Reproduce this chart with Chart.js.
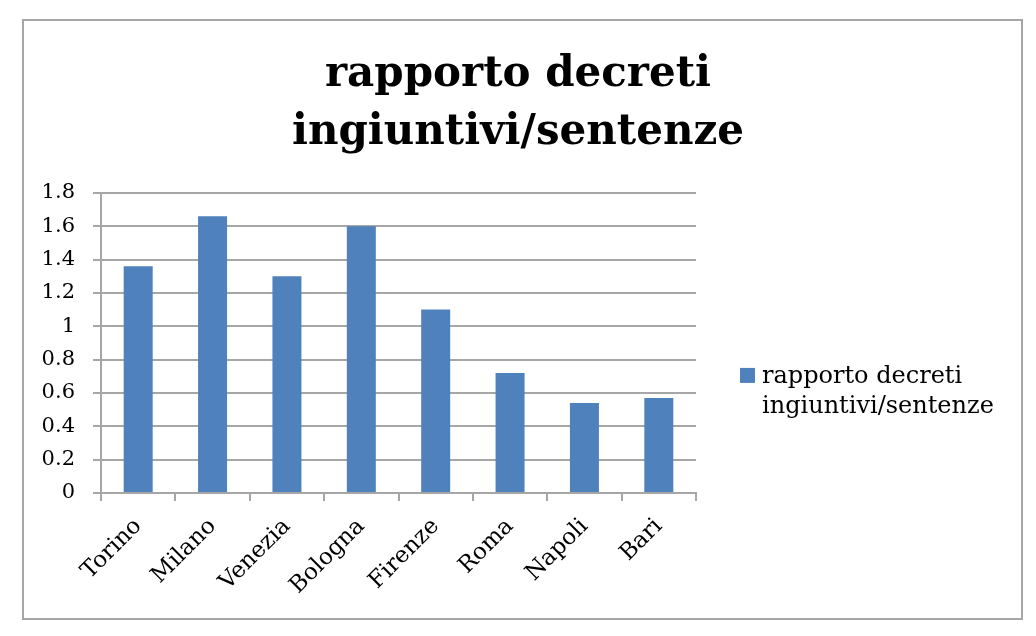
<!doctype html>
<html lang="it">
<head>
  <meta charset="utf-8" />
  <title>rapporto decreti ingiuntivi/sentenze</title>
  <style>
    body { margin: 0; background: #fff; }
    #box { position: relative; width: 1036px; height: 636px; }
  </style>
</head>
<body>
  <div id="box">
    <canvas id="lienzo" width="1036" height="636"></canvas>
  </div>
  <script src="https://cdn.jsdelivr.net/npm/chart.js"></script>
  <script>
    // dati
    const citta = ["Torino", "Milano", "Venezia", "Bologna", "Firenze", "Roma", "Napoli", "Bari"];
    const rapporto = [1.36, 1.66, 1.30, 1.60, 1.10, 0.72, 0.54, 0.57];
    const etichetteY = ["0", "0.2", "0.4", "0.6", "0.8", "1", "1.2", "1.4", "1.6", "1.8"];
    const titolo = ["rapporto decreti", "ingiuntivi/sentenze"];
    const nomeSerie = "rapporto decreti ingiuntivi/sentenze";
    const righeLegenda = ["rapporto decreti", "ingiuntivi/sentenze"];

    const serif = "'DejaVu Serif', 'Liberation Serif', serif";
    const grigio = "#a6a6a6";
    const blu = "#4f81bd";

    Chart.defaults.color = "#000";
    Chart.defaults.font.family = serif;

    // cornice esterna e legenda su due righe
    const cornice = {
      id: "cornice",
      beforeDraw(chart) {
        const ctx = chart.ctx;
        ctx.save();
        ctx.fillStyle = "#fff";
        ctx.fillRect(0, 0, chart.width, chart.height);
        ctx.strokeStyle = grigio;
        ctx.lineWidth = 2;
        ctx.strokeRect(23, 20, 999, 599);
        ctx.restore();
      },
      afterDraw(chart) {
        const ctx = chart.ctx;
        const a = chart.chartArea;
        const x = a.right + 44;
        const y = a.top + 175;
        ctx.save();
        ctx.fillStyle = chart.data.datasets[0].backgroundColor;
        ctx.fillRect(x, y, 15, 15);
        ctx.fillStyle = "#000";
        ctx.font = "24px " + serif;
        ctx.textBaseline = "middle";
        righeLegenda.forEach((r, i) => ctx.fillText(r, x + 22, y + 9 + i * 30));
        ctx.restore();
      }
    };

    new Chart(document.querySelector("#lienzo"), {
      type: "bar",
      data: {
        labels: citta,
        datasets: [{
          label: nomeSerie,
          data: rapporto,
          backgroundColor: blu,
          borderWidth: 0,
          categoryPercentage: 1,
          barPercentage: 0.39
        }]
      },
      options: {
        responsive: false,
        animation: false,
        layout: { padding: 0 },
        plugins: {
          legend: { display: false },
          tooltip: { enabled: false },
          title: {
            display: true,
            text: titolo,
            color: "#000",
            font: { size: 42, weight: "bold", family: serif, lineHeight: 1.38 },
            padding: { top: 46, bottom: 31 }
          }
        },
        scales: {
          x: {
            afterFit: s => { s.height = 143; },
            grid: { display: true, drawOnChartArea: false, color: grigio, lineWidth: 2, tickLength: 8 },
            border: { color: grigio, width: 2 },
            ticks: { font: { size: 23 }, maxRotation: 45, minRotation: 45, autoSkip: false, padding: 12 }
          },
          y: {
            min: 0,
            max: 1.8,
            afterFit: s => { s.width = 101; },
            grid: { color: grigio, lineWidth: 2, tickLength: 8 },
            border: { color: grigio, width: 2 },
            ticks: {
              stepSize: 0.2,
              font: { size: 21 },
              padding: 18,
              callback: (v, i) => etichetteY[i]
            }
          },
          // asse vuoto a destra: lascia lo spazio per la legenda
          spazio: {
            type: "linear",
            position: "right",
            afterFit: s => { s.width = 340; },
            grid: { display: false },
            border: { display: false },
            ticks: { display: false }
          }
        }
      },
      plugins: [cornice]
    });
  </script>
</body>
</html>
